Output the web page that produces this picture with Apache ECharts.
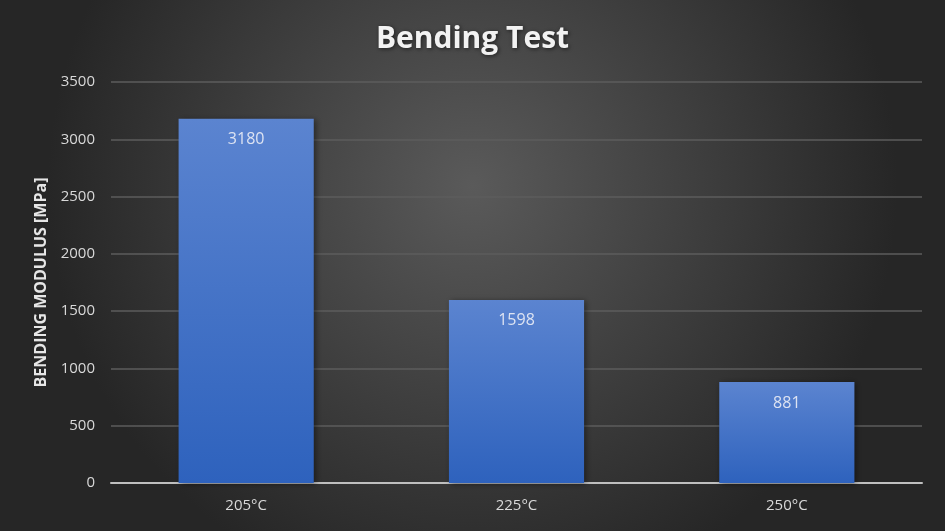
<!DOCTYPE html>
<html>
<head>
<meta charset="utf-8">
<script src="https://cdn.jsdelivr.net/npm/echarts@6/dist/echarts.min.js"></script>
<style>
  html, body { margin: 0; padding: 0; background: #333; }
  #chart { width: 945px; height: 531px; }
</style>
</head>
<body>
<div id="chart"></div>
<script>
// data
const categories = ['205°C', '225°C', '250°C'];
const modulus = [3180, 1598, 881];
const yTicks = [0, 500, 1000, 1500, 2000, 2500, 3000, 3500];

const chart = echarts.init(document.getElementById('chart'));

const option = {
    backgroundColor: {
        type: 'radial', x: 0.5, y: 0.35, r: 0.8,
        colorStops: [
            { offset: 0, color: '#5a5a5a' },
            { offset: 1, color: '#262626' }
        ]
    },
    title: {
        text: 'Bending Test',
        left: 'center',
        top: 19,
        textStyle: {
            color: '#f2f2f2',
            fontFamily: 'Open Sans',
            fontWeight: 'bold',
            fontSize: 30,
            textShadowColor: 'rgba(0,0,0,0.6)',
            textShadowBlur: 4,
            textShadowOffsetX: 1,
            textShadowOffsetY: 1
        }
    },
    grid: { left: 111, right: 23, top: 82, bottom: 48 },
    xAxis: {
        type: 'category',
        data: categories,
        axisTick: { show: false },
        axisLine: { lineStyle: { color: '#bfbfbf', width: 2 } },
        axisLabel: { color: '#d9d9d9', fontSize: 15, fontFamily: 'Open Sans', margin: 15 }
    },
    yAxis: {
        type: 'value',
        min: yTicks[0],
        max: yTicks[yTicks.length - 1],
        interval: yTicks[1] - yTicks[0],
        name: 'BENDING MODULUS [MPa]',
        nameLocation: 'middle',
        nameGap: 62,
        nameTextStyle: { color: '#e6e6e6', fontSize: 16, fontWeight: 'bold', fontFamily: 'Open Sans' },
        axisLine: { show: false },
        axisTick: { show: false },
        axisLabel: {
            color: '#d9d9d9', fontSize: 15, fontFamily: 'Open Sans', margin: 16,
            formatter: v => String(v)
        },
        splitLine: { lineStyle: { color: '#5c5c5c', width: 1.5 } }
    },
    series: [{
        type: 'bar',
        data: modulus,
        barWidth: '50%',
        itemStyle: {
            color: {
                type: 'linear', x: 0, y: 0, x2: 0, y2: 1,
                colorStops: [
                    { offset: 0, color: '#5b84d0' },
                    { offset: 1, color: '#2e62bd' }
                ]
            },
            shadowColor: 'rgba(0,0,0,0.45)',
            shadowBlur: 6,
            shadowOffsetX: 2,
            shadowOffsetY: 1
        },
        label: {
            show: true,
            position: 'insideTop',
            distance: 13,
            color: '#dde3f2',
            fontSize: 16,
            fontFamily: 'Open Sans'
        }
    }]
};

chart.setOption(option);
</script>
</body>
</html>
